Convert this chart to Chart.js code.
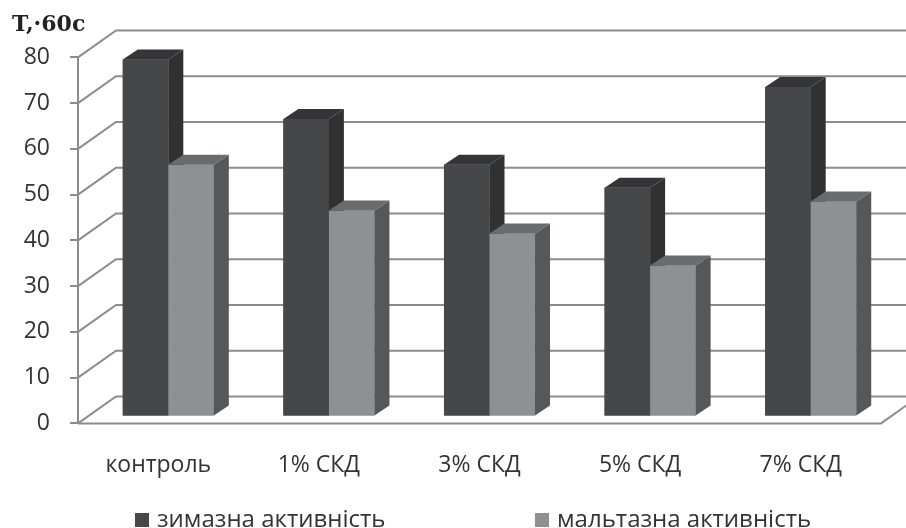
<!DOCTYPE html>
<html>
<head>
<meta charset="utf-8">
<script src="https://cdn.jsdelivr.net/npm/chart.js@4.4.1/dist/chart.umd.min.js"></script>
<style>
  body { margin: 0; background: #fff; }
  #wrap { width: 906px; height: 528px; }
</style>
</head>
<body>
<div id="wrap"><canvas id="grafico"></canvas></div>
<script>
// datos
var categorias = ["контроль", "1% СКД", "3% СКД", "5% СКД", "7% СКД"];
var zimazna = [78, 65, 55, 50, 72];
var maltazna = [55, 45, 40, 33, 47];
var nombresSeries = ["зимазна активність", "мальтазна активність"];
var tituloEje = "T,·60c";
var ticksY = [0, 10, 20, 30, 40, 50, 60, 70, 80];

// colores de las caras (frente, lado, arriba)
var carasOscuras = { frente: "#464749", lado: "#313132", arriba: "#353537" };
var carasClaras = { frente: "#8f9094", lado: "#56575b", arriba: "#6a6b6e" };
var colorRejilla = "#8c8c8c";

// profundidad del efecto 3D
var PARED_DX = 38, PARED_DY = -27;
var BARRA_SX = 10, BARRA_SY = -7;
var BARRA_DX = 15, BARRA_DY = -10;

var fuente = "'Open Sans', 'DejaVu Sans', sans-serif";

var efecto3d = {
    id: "efecto3d",
    beforeDatasetsDraw: function (chart) {
        var ctx = chart.ctx;
        var a = chart.chartArea;
        var y = chart.scales.y;
        ctx.save();
        ctx.strokeStyle = colorRejilla;
        ctx.lineWidth = 2;
        ticksY.forEach(function (v) {
            var py = y.getPixelForValue(v);
            ctx.beginPath();
            ctx.moveTo(a.left, py);
            ctx.lineTo(a.left + PARED_DX, py + PARED_DY);
            ctx.lineTo(a.right + PARED_DX, py + PARED_DY);
            ctx.stroke();
        });
        // suelo
        ctx.beginPath();
        ctx.moveTo(a.left, a.bottom);
        ctx.lineTo(a.right, a.bottom);
        ctx.lineTo(a.right + PARED_DX, a.bottom + PARED_DY);
        ctx.stroke();
        ctx.restore();

        ctx.save();
        ctx.translate(BARRA_SX, BARRA_SY);
    },
    afterDatasetsDraw: function (chart) {
        var ctx = chart.ctx;
        var metas = [chart.getDatasetMeta(0), chart.getDatasetMeta(1)];
        var caras = [carasOscuras, carasClaras];
        for (var i = 0; i < categorias.length; i++) {
            metas.forEach(function (meta, d) {
                var el = meta.data[i];
                el.draw(ctx); // repintar el frente encima del lado anterior
                var p = el.getProps(["x", "y", "base", "width"], true);
                var l = p.x - p.width / 2, r = p.x + p.width / 2;
                // lado derecho
                ctx.fillStyle = caras[d].lado;
                ctx.beginPath();
                ctx.moveTo(r, p.y);
                ctx.lineTo(r + BARRA_DX, p.y + BARRA_DY);
                ctx.lineTo(r + BARRA_DX, p.base + BARRA_DY);
                ctx.lineTo(r, p.base);
                ctx.closePath();
                ctx.fill();
                // cara de arriba
                ctx.fillStyle = caras[d].arriba;
                ctx.beginPath();
                ctx.moveTo(l, p.y);
                ctx.lineTo(l + BARRA_DX, p.y + BARRA_DY);
                ctx.lineTo(r + BARRA_DX, p.y + BARRA_DY);
                ctx.lineTo(r, p.y);
                ctx.closePath();
                ctx.fill();
            });
        }
        ctx.restore();
    },
    afterDraw: function (chart) {
        // leyenda dibujada a mano
        var ctx = chart.ctx;
        var xs = [135, 535];
        var yc = 520;
        ctx.save();
        ctx.font = "24px " + fuente;
        ctx.textBaseline = "middle";
        ctx.textAlign = "left";
        chart.data.datasets.forEach(function (ds, d) {
            ctx.fillStyle = ds.backgroundColor;
            ctx.fillRect(xs[d], yc - 7, 14, 14);
            ctx.fillStyle = "#333";
            ctx.fillText(ds.label, xs[d] + 22, yc);
        });
        ctx.restore();
    }
};

var ctx = document.getElementById("grafico").getContext("2d");
var myChart = new Chart(ctx, {
    type: "bar",
    data: {
        labels: categorias,
        datasets: [
            { label: nombresSeries[0], data: zimazna, backgroundColor: carasOscuras.frente },
            { label: nombresSeries[1], data: maltazna, backgroundColor: carasClaras.frente },
        ],
    },
    options: {
        responsive: true,
        maintainAspectRatio: false,
        animation: false,
        layout: { padding: { left: 12, right: 25, top: 0, bottom: 21 } },
        datasets: { bar: { categoryPercentage: 0.567, barPercentage: 1, clip: false } },
        scales: {
            x: {
                grid: { display: false, drawTicks: false },
                border: { display: false },
                ticks: { padding: 28, color: "#333", font: { family: fuente, size: 23 } },
            },
            y: {
                min: 0,
                max: 80,
                afterFit: function (scale) { scale.width = 66; },
                afterBuildTicks: function (scale) {
                    scale.ticks = ticksY.map(function (v) { return { value: v }; });
                },
                grid: { drawOnChartArea: false, drawTicks: true, tickLength: 8, color: colorRejilla, lineWidth: 2 },
                border: { display: true, color: colorRejilla, width: 2 },
                ticks: { padding: 20, color: "#333", font: { family: fuente, size: 23 } },
            },
        },
        plugins: {
            legend: { display: false },
            tooltip: { enabled: false },
            title: {
                display: true,
                text: tituloEje,
                align: "start",
                color: "#222",
                font: { family: "'DejaVu Serif', serif", weight: "bold", size: 22 },
                padding: { top: 12, bottom: 19 },
            },
        },
    },
    plugins: [efecto3d],
});
</script>
</body>
</html>
